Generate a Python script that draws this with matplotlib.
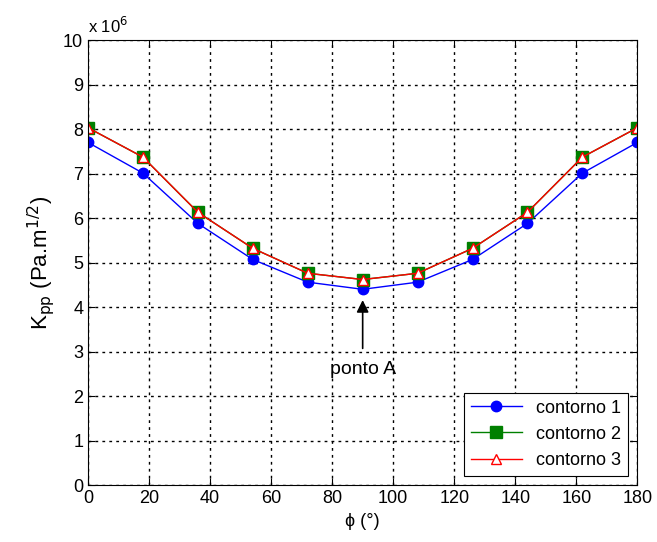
import matplotlib.pyplot as plt

phi = [0, 18, 36, 54, 72, 90, 108, 126, 144, 162, 180]
contorno1 = [7.70, 7.01, 5.88, 5.07, 4.56, 4.40, 4.56, 5.07, 5.88, 7.01, 7.70]
contorno2 = [8.03, 7.37, 6.13, 5.32, 4.76, 4.62, 4.76, 5.32, 6.13, 7.37, 8.03]
contorno3 = [8.03, 7.37, 6.13, 5.32, 4.76, 4.62, 4.76, 5.32, 6.13, 7.37, 8.03]
xticks = list(range(0, 181, 20))
yticks = list(range(0, 11))

plt.rcParams['font.family'] = ['Liberation Sans', 'DejaVu Sans']

fig = plt.figure(figsize=(6.57, 5.42), dpi=100)
ax = fig.add_axes([0.134, 0.105, 0.836, 0.821])

ax.plot(phi, contorno1, color='blue', marker='o', markersize=7.5, lw=1, label='contorno 1')
ax.plot(phi, contorno2, color='green', marker='s', markersize=8.5, markerfacecolor='green',
        lw=1, label='contorno 2')
ax.plot(phi, contorno3, color='red', marker='^', markersize=7.5, markerfacecolor='white',
        lw=1, label='contorno 3')

ax.annotate('ponto A', xy=(90, 4.22), xytext=(90, 2.6), ha='center', va='center', fontsize=14,
            arrowprops=dict(arrowstyle='-|>', color='black', lw=1.2, mutation_scale=18,
                            shrinkA=7))

ax.set_xlim(0, 180)
ax.set_ylim(0, 10)
ax.set_xticks(xticks)
ax.set_yticks(yticks)
ax.tick_params(direction='in', top=True, right=True, labelsize=13, length=5)
ax.grid(True, color='black', linestyle=(0, (2, 3)), linewidth=1.0)
ax.text(0.0, 1.01, r'x 10$^{6}$', transform=ax.transAxes, fontsize=12, ha='left', va='bottom')

ax.set_xlabel('ϕ (°)', fontsize=13)
ax.set_ylabel(r'K$_{\mathrm{pp}}$ (Pa.m$^{1/2}$)', fontsize=16)

leg = ax.legend(loc='lower right', fontsize=13, fancybox=False, framealpha=1,
                edgecolor='black', borderaxespad=0.5, handlelength=2.8)
leg.get_frame().set_linewidth(0.8)

fig.savefig('out.png', dpi=100)
